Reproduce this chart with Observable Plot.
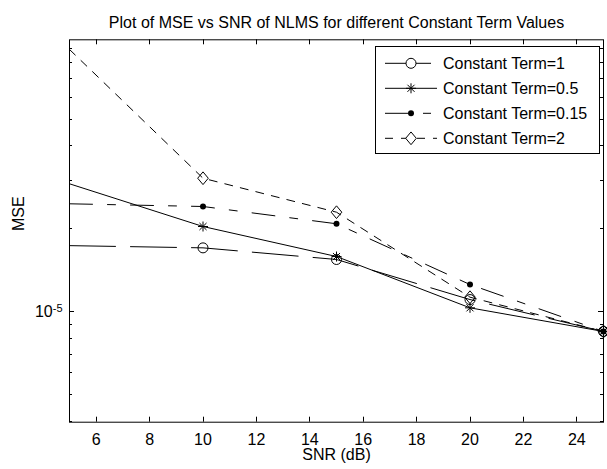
<!DOCTYPE html>
<html><head><meta charset="utf-8">
<script src="https://cdn.jsdelivr.net/npm/d3@7"></script>
<script src="https://cdn.jsdelivr.net/npm/@observablehq/plot@0.6"></script>
<style>
body{margin:0;background:#fff;}
#chart svg{display:block;}
</style></head><body>
<div id="chart"></div>
<script>
// ---- data ----
const titleText = "Plot of MSE vs SNR of NLMS for different Constant Term Values";
const xLabel = "SNR (dB)";
const yLabel = "MSE";
const snr = [5, 10, 15, 20, 25];
const mseTerm1   = [1.736e-5, 1.704e-5, 1.546e-5, 1.106e-5, 8.47e-6];
const mseTerm05  = [2.911e-5, 2.037e-5, 1.585e-5, 1.032e-5, 8.47e-6];
const mseTerm015 = [2.463e-5, 2.408e-5, 2.084e-5, 1.254e-5, 8.47e-6];
const mseTerm2   = [8.95e-5, 3.05e-5, 2.296e-5, 1.128e-5, 8.47e-6];
const seriesNames = ["Constant Term=1", "Constant Term=0.5", "Constant Term=0.15", "Constant Term=2"];
const xTicks = [6, 8, 10, 12, 14, 16, 18, 20, 22, 24];
const yMajorTicks = [1e-5];
const yMinorTicks = [4e-6, 5e-6, 6e-6, 7e-6, 8e-6, 9e-6, 2e-5, 3e-5, 4e-5, 5e-5, 6e-5, 7e-5, 8e-5, 9e-5];

// ---- layout / styles ----
const W = 607, H = 469, mL = 69, mR = 4, mT = 39.3, mB = 47.3;
const FONT = "'Liberation Sans', Arial, Helvetica, sans-serif";
const dashes = ["46,15", null, "23,15,8,15", "8,8"];
const circleSym = {draw(c, size){ const s = Math.sqrt(size/Math.PI); c.moveTo(s,0); c.arc(0,0,s,0,2*Math.PI); c.closePath(); }};
const starSym = {draw(c, size){ const s = Math.sqrt(size/Math.PI); const d = s*0.7071;
  c.moveTo(0,-s); c.lineTo(0,s); c.moveTo(-s,0); c.lineTo(s,0);
  c.moveTo(-d,-d); c.lineTo(d,d); c.moveTo(-d,d); c.lineTo(d,-d); }};
const diamondSym = {draw(c, size){ const s = Math.sqrt(size/Math.PI);
  c.moveTo(0,-s*1.2); c.lineTo(s,0); c.lineTo(0,s*1.2); c.lineTo(-s,0); c.closePath(); }};
const markers = [
  {symbol: circleSym, r: 5, fill: "none", stroke: "black"},
  {symbol: starSym, r: 5, fill: "none", stroke: "black"},
  {symbol: circleSym, r: 3, fill: "black", stroke: "none"},
  {symbol: diamondSym, r: 5.3, fill: "none", stroke: "black"}
];

const seriesValues = [mseTerm1, mseTerm05, mseTerm015, mseTerm2];
const rows = [];
seriesNames.forEach((name, i) => snr.forEach((s, j) => rows.push({series: name, idx: i, snr: s, mse: seriesValues[i][j]})));

const marks = [];
seriesNames.forEach((name, i) => {
  const data = rows.filter(d => d.idx === i);
  marks.push(Plot.line(data, {x: "snr", y: "mse", stroke: "black", strokeWidth: 1, strokeDasharray: dashes[i]}));
  marks.push(Plot.dot(data.filter(d => d.snr > 5), {x: "snr", y: "mse", strokeWidth: 1, ...markers[i]}));
});

const chart = Plot.plot({
  width: W, height: H,
  marginLeft: mL, marginRight: mR, marginTop: mT, marginBottom: mB,
  style: {fontFamily: FONT, fontSize: "16px", color: "black", background: "white", overflow: "visible"},
  x: {domain: [5, 25]},
  y: {type: "log", domain: [3.967e-6, 9.703e-5]},
  marks: [
    ...marks,
    Plot.frame({stroke: "black", strokeWidth: 1}),
    // tick labels
    Plot.axisX({ticks: xTicks, anchor: "bottom", tickSize: 0, tickPadding: 11, label: null, fontSize: 16}),
    Plot.axisY({ticks: yMajorTicks, anchor: "left", tickSize: 0, tickPadding: 7, label: null, fontSize: 16,
                tickFormat: d => "10"}),
    // axis titles + title
    Plot.text([xLabel], {text: d => d, frameAnchor: "bottom", dy: 38, fontSize: 16}),
    Plot.text([yLabel], {text: d => d, frameAnchor: "left", dx: -51, rotate: -90, fontSize: 16}),
    Plot.text([titleText], {text: d => d, frameAnchor: "top", dy: -23, fontSize: 16})
  ]
});
document.getElementById("chart").appendChild(chart);
const svg = d3.select(chart);

// inward ticks on all four sides, positioned with Plot's own scales
const xs = chart.scale("x"), ys = chart.scale("y");
const x0 = mL, x1 = W - mR, y0 = mT, y1 = H - mB;
const tg = svg.append("g").attr("stroke", "black").attr("stroke-width", 1).attr("fill", "none");
const crisp = v => Math.round(v) + 0.5;
xTicks.forEach(v => {
  const px = crisp(xs.apply(v));
  tg.append("line").attr("x1", px).attr("x2", px).attr("y1", y1).attr("y2", y1 - 5);
  tg.append("line").attr("x1", px).attr("x2", px).attr("y1", y0).attr("y2", y0 + 5);
});
[[yMajorTicks, 5], [yMinorTicks, 3]].forEach(([ticks, len]) => ticks.forEach(v => {
  const py = crisp(ys.apply(v));
  tg.append("line").attr("y1", py).attr("y2", py).attr("x1", x0).attr("x2", x0 + len);
  tg.append("line").attr("y1", py).attr("y2", py).attr("x1", x1).attr("x2", x1 - len);
}));

// superscript exponent on log tick label
svg.selectAll('g[aria-label="y-axis tick label"] text').each(function(d, i) {
  const t = d3.select(this);
  const v = yMajorTicks[i];
  const exp = Math.round(Math.log10(v));
  t.text(null);
  t.append("tspan").text("10");
  t.append("tspan").attr("dy", "-0.45em").attr("font-size", "11px").text(String(exp));
});

// legend box
const lg = svg.append("g").attr("font-family", FONT).attr("font-size", 16).attr("text-anchor", "start");
const lx = 375, ly = 46, lw = 224, lh = 107;
lg.append("rect").attr("x", lx + 0.5).attr("y", ly + 0.5).attr("width", lw).attr("height", lh)
  .attr("fill", "white").attr("stroke", "black").attr("stroke-width", 1);
seriesNames.forEach((name, i) => {
  const cy = ly + 17.3 + 25 * i;
  lg.append("line").attr("x1", lx + 10).attr("x2", lx + 62).attr("y1", cy).attr("y2", cy)
    .attr("stroke", "black").attr("stroke-width", 1).attr("stroke-dasharray", dashes[i]);
  const m = markers[i];
  lg.append("path").attr("transform", `translate(${lx + 36},${cy})`)
    .attr("d", d3.symbol(m.symbol, Math.PI * m.r * m.r)())
    .attr("fill", m.fill === "none" ? "white" : m.fill).attr("stroke", m.stroke).attr("stroke-width", 1);
  lg.append("text").attr("x", lx + 68).attr("y", cy).attr("dy", "0.35em")
    .attr("text-anchor", "start").attr("fill", "black").text(name);
});
</script>
</body></html>
